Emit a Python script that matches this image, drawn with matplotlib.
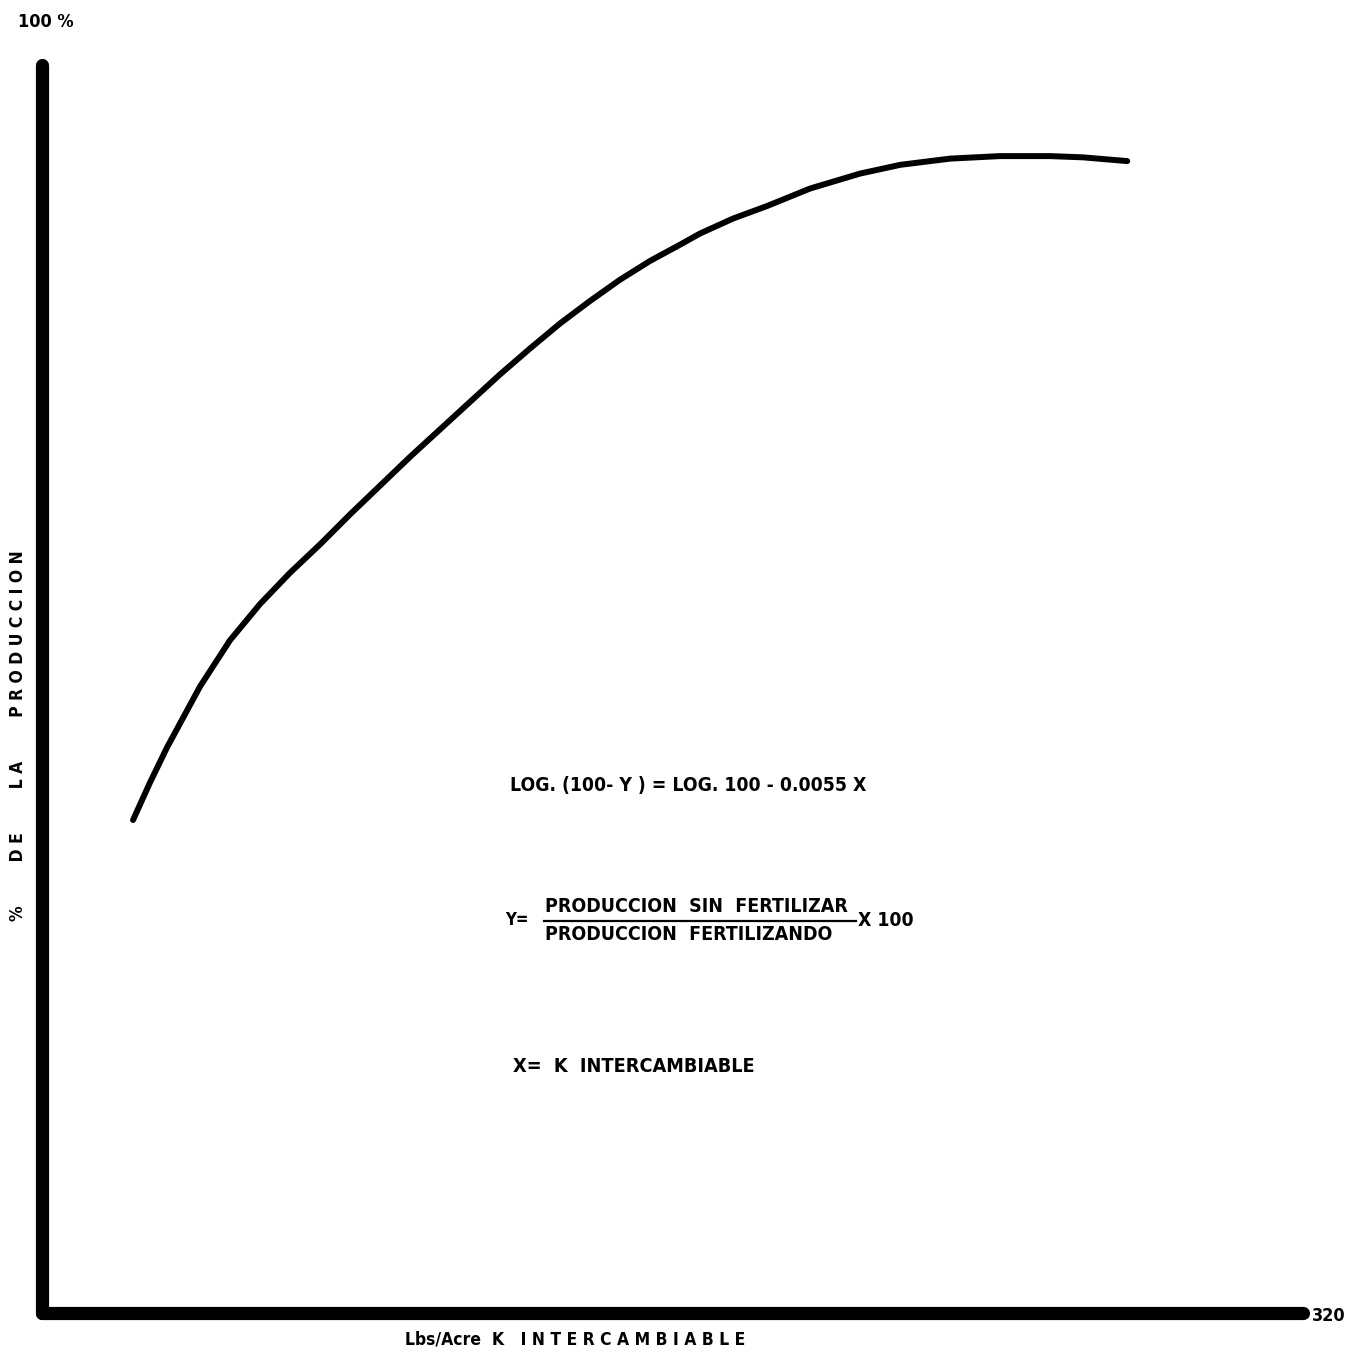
import matplotlib.pyplot as plt
from matplotlib.lines import Line2D

# Curve (K lbs/acre vs % of production)
k_lbs = [23.1, 27.4, 31.7, 40.1, 47.7, 55.3, 62.9, 70.6, 78.2, 85.8, 93.4,
         101.0, 108.6, 116.2, 123.9, 131.5, 139.1, 146.7, 154.3, 161.9, 167.0,
         175.4, 184.0, 194.9, 207.6, 217.8, 230.5, 243.1, 255.8, 264.2, 275.4]
pct_prod = [39.5, 42.5, 45.3, 50.2, 53.9, 56.8, 59.3, 61.6, 64.0, 66.3, 68.6,
            70.8, 73.0, 75.2, 77.3, 79.3, 81.1, 82.8, 84.3, 85.6, 86.5,
            87.7, 88.7, 90.1, 91.3, 92.0, 92.5, 92.7, 92.7, 92.6, 92.3]

x_max = 320
y_max = 100

W, H = 1364, 1354
fig = plt.figure(figsize=(W / 100, H / 100), dpi=100)
ax = fig.add_axes([42 / W, (H - 1313) / H, (1303 - 42) / W, (1313 - 65) / H])

line, = ax.plot(k_lbs, pct_prod, color='black', lw=4.3,
                solid_capstyle='round', solid_joinstyle='round')
line.set_clip_on(False)
ax.set_xlim(0, x_max)
ax.set_ylim(0, y_max)
ax.set_xticks([])
ax.set_yticks([])
for side in ['top', 'right']:
    ax.spines[side].set_visible(False)
for side in ['left', 'bottom']:
    ax.spines[side].set_linewidth(9.5)
    ax.spines[side].set_capstyle('round')

fam = ['DejaVu Sans', 'Liberation Sans']


def px(x, y):
    # pixel position in the picture -> figure fraction
    return x / W, 1 - y / H


def put(x, y, s, size=14, **kw):
    fig.text(*px(x, y), s, fontsize=size, fontweight='bold', family=fam,
             fontstretch='condensed', va='center', **kw)


put(18, 22, '100 %', size=13)
put(1312, 1316, '320', size=13)
put(405, 1339, 'Lbs/Acre  K   I N T E R C A M B I A B L E', size=12.5)
put(18, 736, '%        D E        L A        P R O D U C C I O N', size=12.5,
    rotation=90, ha='center')

put(510, 786, 'LOG. (100- Y ) = LOG. 100 - 0.0055 X', size=13.9)
put(505, 920, 'Y=', size=12)
put(545, 906, 'PRODUCCION  SIN  FERTILIZAR', size=14)
put(545, 935, 'PRODUCCION  FERTILIZANDO', size=14)
put(858, 920, 'X 100', size=13.9)
fig.add_artist(Line2D([544 / W, 856 / W], [1 - 921 / H, 1 - 921 / H],
                      color='black', lw=1.6))
put(513, 1067, 'X=  K  INTERCAMBIABLE', size=14.2)

fig.savefig('out.png', dpi=100)
